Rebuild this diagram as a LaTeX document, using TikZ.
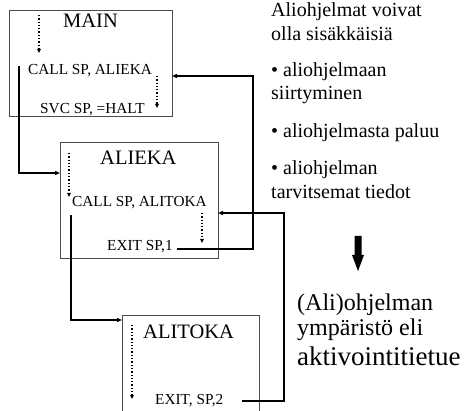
\documentclass[tikz,border=0pt]{standalone}
\usepackage{fontspec}
\setmainfont{Liberation Serif}
\usetikzlibrary{arrows.meta}
\begin{document}
\begin{tikzpicture}[x=1pt,y=-1pt,
 box/.style={draw=black!70, line width=0.8pt, inner sep=0pt, outer sep=0pt},
 title/.style={font=\fontsize{20.5}{24}\selectfont, anchor=base west, inner sep=0pt},
 code/.style={font=\fontsize{15.3}{18}\selectfont, anchor=base west, inner sep=0pt},
 flow/.style={dotted, line width=1.3pt, -{Triangle[length=4pt,width=3.5pt]}},
 link/.style={line width=1.6pt, -{Triangle[length=5pt,width=4pt]}},
 side/.style={font=\fontsize{20}{24}\selectfont, anchor=base west, inner sep=0pt},
 big/.style={font=\fontsize{24}{28}\selectfont, anchor=base west, inner sep=0pt},
]
\useasboundingbox (0,0) rectangle (465,411);
\clip (0,0) rectangle (465,411);
\fill[white] (0,0) rectangle (465,411);

% boxes
\node[box, minimum width=163pt, minimum height=106pt] (main) at (90.5,63) {};
\node[box, minimum width=158pt, minimum height=116pt] (alieka) at (139,200) {};
\node[box, minimum width=137pt, minimum height=130pt] (alitoka) at (190.5,380) {};

% box texts
\node[title] (tmain) at (63,28) {MAIN};
\node[code] (call1) at (28,75) {CALL SP, ALIEKA};
\node[code] (svc) at (40,114) {SVC SP, =HALT};
\node[title] (talieka) at (100,165) {ALIEKA};
\node[code] (call2) at (72,207) {CALL SP, ALITOKA};
\node[code] (exit1) at (107,251) {EXIT SP,1};
\node[title] (talitoka) at (143,338) {ALITOKA};
\node[code] (exit2) at (155,404) {EXIT, SP,2};

% dotted flow arrows
\coordinate (d1a) at (39,15);  \coordinate (d1b) at (39,53);
\coordinate (d2a) at (157,76); \coordinate (d2b) at (157,108);
\coordinate (d3a) at (69,153); \coordinate (d3b) at (69,197);
\coordinate (d4a) at (202,213); \coordinate (d4b) at (202,243);
\coordinate (d5a) at (132,325); \coordinate (d5b) at (132,399);
\draw[flow] (d1a) -- (d1b);
\draw[flow] (d2a) -- (d2b);
\draw[flow] (d3a) -- (d3b);
\draw[flow] (d4a) -- (d4b);
\draw[flow] (d5a) -- (d5b);

% connectors
\coordinate (c1) at (19,66);  \coordinate (c1e) at (60,173);
\draw[link] (c1) |- (alieka.west |- c1e);
\coordinate (e1) at (177,249); \coordinate (r1) at (253,76);
\draw[link] (e1) -| (r1) -- (main.east |- r1);
\coordinate (c2) at (71,215); \coordinate (c2e) at (122,320);
\draw[link] (c2) |- (alitoka.west |- c2e);
\coordinate (e2) at (242,401); \coordinate (r2) at (284,213);
\draw[link] (e2) -| (r2) -- (alieka.east |- r2);

% side text
\node[side] (s1) at (271,17) {Aliohjelmat voivat};
\node[side] (s2) at (271,41) {olla sisäkkäisiä};
\node[side] (s3) at (271,77) {• aliohjelmaan};
\node[side] (s4) at (271,100) {siirtyminen};
\node[side] (s5) at (271,138) {• aliohjelmasta paluu};
\node[side] (s6) at (271,175) {• aliohjelman};
\node[side] (s7) at (271,199) {tarvitsemat tiedot};

% thick arrow
\fill (354.5,236) -- (361.5,236) -- (361.5,255) -- (364,255) -- (358,271) -- (352,255) -- (354.5,255) -- cycle;

\node[big] (b1) at (297,310) {(Ali)ohjelman};
\node[big] (b2) at (297,335) {ympäristö eli};
\node[big, font=\fontsize{27}{30}\selectfont] (b3) at (297,365) {aktivointitietue};
\end{tikzpicture}
\end{document}
